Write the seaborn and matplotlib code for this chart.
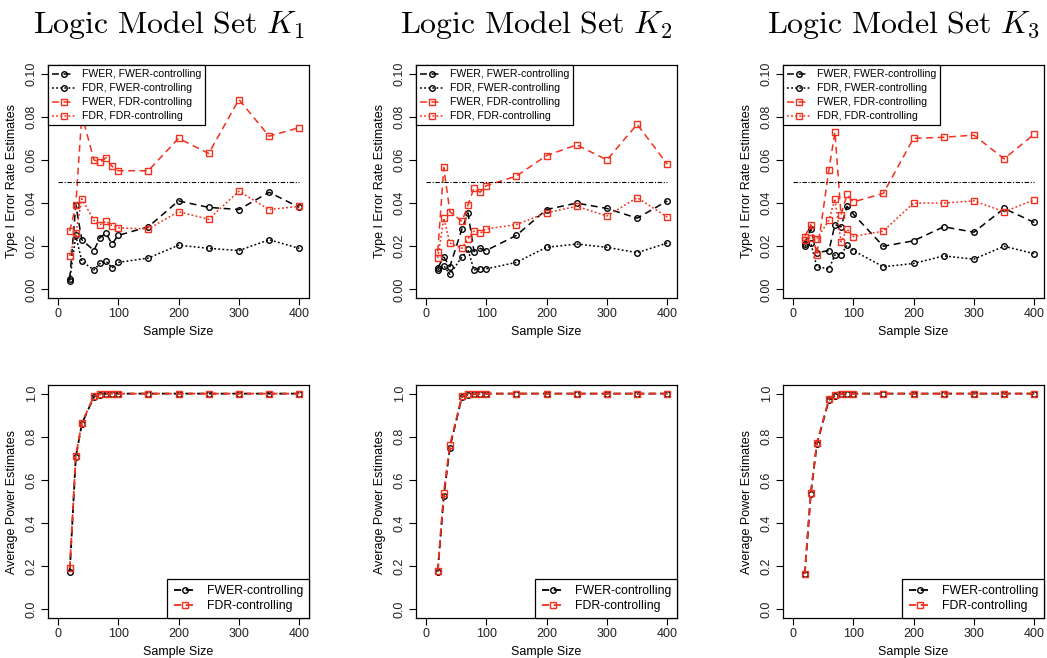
import matplotlib
matplotlib.use("Agg")
import matplotlib.pyplot as plt
import seaborn as sns
import pandas as pd

# sample sizes used in every panel
n = [20, 30, 40, 60, 70, 80, 90, 100, 150, 200, 250, 300, 350, 400]

# Type I error estimates, K1
k1_fwer_fwerc = [0.005, 0.039, 0.023, 0.018, 0.024, 0.026, 0.021, 0.025, 0.029, 0.041, 0.038, 0.037, 0.045, 0.038]
k1_fdr_fwerc = [0.004, 0.025, 0.013, 0.009, 0.012, 0.013, 0.010, 0.0125, 0.0145, 0.0205, 0.019, 0.018, 0.023, 0.019]
k1_fwer_fdrc = [0.027, 0.039, 0.081, 0.060, 0.059, 0.061, 0.057, 0.055, 0.055, 0.070, 0.063, 0.088, 0.071, 0.075]
k1_fdr_fdrc = [0.0155, 0.026, 0.042, 0.032, 0.030, 0.0315, 0.0295, 0.0285, 0.028, 0.036, 0.0325, 0.0455, 0.037, 0.0385]

# K2
k2_fwer_fwerc = [0.010, 0.015, 0.0105, 0.028, 0.0355, 0.0175, 0.019, 0.018, 0.025, 0.037, 0.040, 0.0375, 0.033, 0.041]
k2_fdr_fwerc = [0.009, 0.011, 0.007, 0.015, 0.0185, 0.009, 0.0095, 0.0095, 0.0125, 0.0195, 0.021, 0.0195, 0.017, 0.0215]
k2_fwer_fdrc = [0.0175, 0.0565, 0.036, 0.0315, 0.039, 0.047, 0.045, 0.048, 0.0525, 0.062, 0.067, 0.060, 0.0765, 0.058]
k2_fdr_fdrc = [0.0145, 0.033, 0.0215, 0.019, 0.0235, 0.027, 0.026, 0.028, 0.030, 0.0355, 0.0385, 0.034, 0.0425, 0.0335]

# K3
k3_fwer_fwerc = [0.021, 0.028, 0.017, 0.018, 0.030, 0.029, 0.0385, 0.035, 0.020, 0.0225, 0.029, 0.0265, 0.0375, 0.031]
k3_fdr_fwerc = [0.020, 0.0215, 0.0105, 0.0095, 0.016, 0.016, 0.0205, 0.018, 0.0105, 0.012, 0.0155, 0.014, 0.020, 0.0165]
k3_fwer_fdrc = [0.0245, 0.030, 0.016, 0.0555, 0.073, 0.0345, 0.044, 0.0405, 0.0445, 0.070, 0.0705, 0.0715, 0.0605, 0.072]
k3_fdr_fdrc = [0.023, 0.024, 0.0235, 0.032, 0.042, 0.022, 0.028, 0.0245, 0.027, 0.040, 0.040, 0.041, 0.036, 0.0415]

# average power estimates
k1_pow_fwerc = [0.175, 0.705, 0.860, 0.985, 0.995, 0.999, 1.0, 1.0, 1.0, 1.0, 1.0, 1.0, 1.0, 1.0]
k1_pow_fdrc = [0.190, 0.710, 0.865, 0.987, 0.997, 1.0, 1.0, 1.0, 1.0, 1.0, 1.0, 1.0, 1.0, 1.0]
k2_pow_fwerc = [0.175, 0.525, 0.750, 0.985, 0.995, 0.997, 1.0, 1.0, 1.0, 1.0, 1.0, 1.0, 1.0, 1.0]
k2_pow_fdrc = [0.180, 0.540, 0.760, 0.987, 0.997, 0.998, 1.0, 1.0, 1.0, 1.0, 1.0, 1.0, 1.0, 1.0]
k3_pow_fwerc = [0.165, 0.535, 0.765, 0.970, 0.990, 0.997, 1.0, 1.0, 1.0, 1.0, 1.0, 1.0, 1.0, 1.0]
k3_pow_fdrc = [0.165, 0.540, 0.770, 0.975, 0.993, 0.998, 1.0, 1.0, 1.0, 1.0, 1.0, 1.0, 1.0, 1.0]

titles = [r"$\mathrm{Logic\ Model\ Set}\ K_1$", r"$\mathrm{Logic\ Model\ Set}\ K_2$", r"$\mathrm{Logic\ Model\ Set}\ K_3$"]
err_labels = ["FWER, FWER-controlling", "FDR, FWER-controlling", "FWER, FDR-controlling", "FDR, FDR-controlling"]
pow_labels = ["FWER-controlling", "FDR-controlling"]

err_sets = [
    [k1_fwer_fwerc, k1_fdr_fwerc, k1_fwer_fdrc, k1_fdr_fdrc],
    [k2_fwer_fwerc, k2_fdr_fwerc, k2_fwer_fdrc, k2_fdr_fdrc],
    [k3_fwer_fwerc, k3_fdr_fwerc, k3_fwer_fdrc, k3_fdr_fdrc],
]
pow_sets = [
    [k1_pow_fwerc, k1_pow_fdrc],
    [k2_pow_fwerc, k2_pow_fdrc],
    [k3_pow_fwerc, k3_pow_fdrc],
]

sns.set_style("ticks")
plt.rcParams["font.family"] = ["Liberation Sans", "DejaVu Sans"]
plt.rcParams["mathtext.fontset"] = "cm"
plt.rcParams["xtick.direction"] = "out"
plt.rcParams["ytick.direction"] = "out"
plt.rcParams["text.color"] = "black"
plt.rcParams["axes.labelcolor"] = "black"
plt.rcParams["legend.numpoints"] = 1

RED = "#f2301c"
# (color, linestyle, marker) per error series
err_styles = [
    ("black", (0, (4.5, 3)), "o"),
    ("black", (0, (1.2, 1.5)), "o"),
    (RED, (0, (4.5, 3)), "s"),
    (RED, (0, (1.2, 1.5)), "s"),
]
pow_styles = [("black", (0, (4, 2.5)), "o"), (RED, (0, (4, 2.5)), "s")]

W, H = 1047, 658
fig = plt.figure(figsize=(W / 100, H / 100), dpi=100)

lefts = [48, 416, 783]
aw = 261
tops = [65, 385]
ah = 233


def style_axes(ax, ylim, yticks, ylabel, fmt):
    ax.set_xlim(-16, 416)
    ax.set_ylim(*ylim)
    ax.set_xticks([0, 100, 200, 300, 400])
    ax.set_yticks(yticks)
    ax.set_yticklabels([fmt.format(v) for v in yticks], rotation=90, va="center")
    ax.tick_params(labelsize=9, length=5, width=0.8, colors="black", labelcolor="#222222", pad=2.5)
    for s in ax.spines.values():
        s.set_visible(True)
        s.set_linewidth(0.9)
        s.set_color("black")
    ax.set_xlabel("Sample Size", fontsize=9)
    ax.set_ylabel(ylabel, fontsize=9)
    ax.xaxis.set_label_coords(0.5, -0.12)
    ax.yaxis.set_label_coords(-0.115, 0.5)


for i in range(3):
    # Type I error panel
    ax = fig.add_axes([lefts[i] / W, 1 - (tops[0] + ah) / H, aw / W, ah / H])
    for series, lab, (c, ls, m) in zip(err_sets[i], err_labels, err_styles):
        df = pd.DataFrame({"n": n, "v": series})
        sns.lineplot(data=df, x="n", y="v", ax=ax, color=c, linestyle=ls, linewidth=1.1,
                     marker=m, markersize=4, markerfacecolor="none", markeredgecolor=c,
                     markeredgewidth=1.0, label=lab, legend=False)
    ax.hlines(0.05, 0, 400, colors="black", linestyles=(0, (4, 1.5, 1, 1.5)), linewidth=0.8)
    style_axes(ax, (-0.004, 0.104), [0.0, 0.02, 0.04, 0.06, 0.08, 0.10],
               "Type I Error Rate Estimates", "{:.2f}")
    leg = ax.legend(loc="upper left", fontsize=7.6, frameon=True, fancybox=False,
                    edgecolor="black", framealpha=1, borderaxespad=0, handlelength=2.2,
                    labelspacing=0.38, borderpad=0.4, handletextpad=0.6)
    leg.get_frame().set_linewidth(0.9)

    fig.text((lefts[i] + aw / 2 - 10) / W, 1 - 25 / H, titles[i], ha="center", va="center",
             fontsize=23, color="black")

    # power panel
    ax2 = fig.add_axes([lefts[i] / W, 1 - (tops[1] + ah) / H, aw / W, ah / H])
    for series, lab, (c, ls, m) in zip(pow_sets[i], pow_labels, pow_styles):
        df = pd.DataFrame({"n": n, "v": series})
        sns.lineplot(data=df, x="n", y="v", ax=ax2, color=c, linestyle=ls, linewidth=1.3,
                     marker=m, markersize=4, markerfacecolor="none", markeredgecolor=c,
                     markeredgewidth=1.0, label=lab, legend=False)
    style_axes(ax2, (-0.04, 1.04), [0.0, 0.2, 0.4, 0.6, 0.8, 1.0],
               "Average Power Estimates", "{:.1f}")
    leg2 = ax2.legend(loc="lower right", fontsize=8.8, frameon=True, fancybox=False,
                      edgecolor="black", framealpha=1, borderaxespad=0, handlelength=1.9,
                      labelspacing=0.2, borderpad=0.5, handletextpad=0.8)
    leg2.get_frame().set_linewidth(0.9)

fig.savefig("out.png", dpi=100)
